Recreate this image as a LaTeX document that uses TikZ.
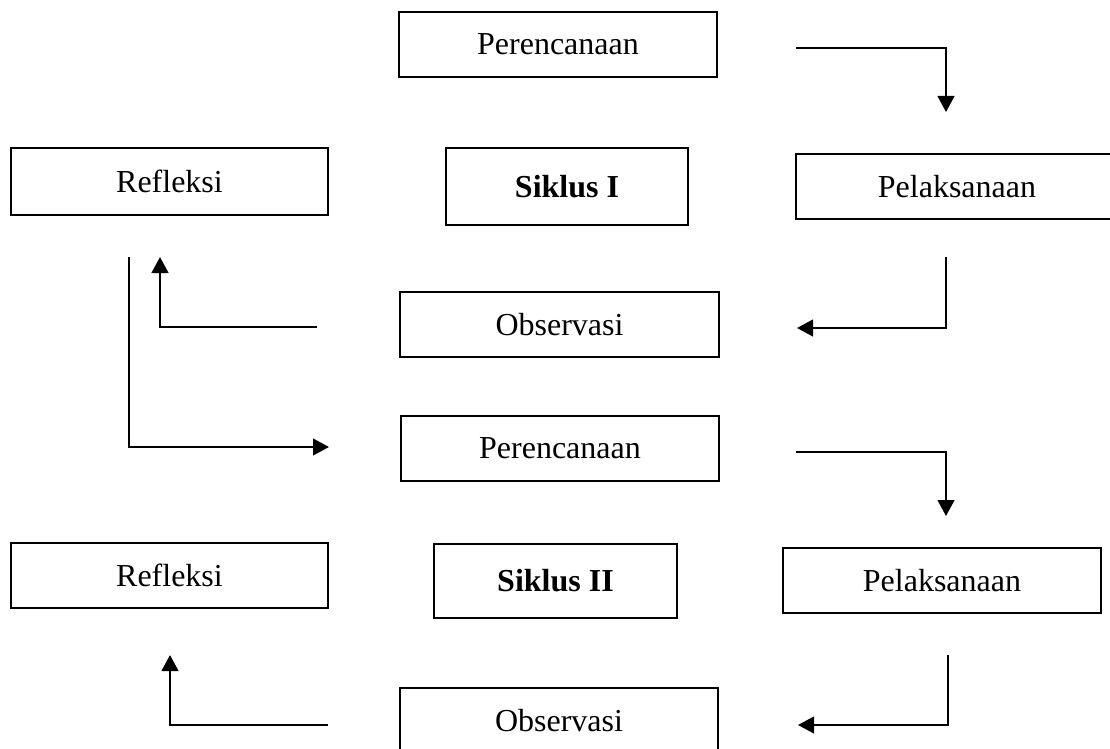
\documentclass[tikz,border=0pt]{standalone}
\usepackage{fontspec}
\setmainfont{Liberation Serif}
\usetikzlibrary{arrows.meta}

\tikzset{
  stepbox/.style={draw, line width=1.9pt, inner sep=0pt, font=\fontsize{24}{29}\selectfont},
  flow/.style={line width=1.7pt, -{Triangle[length=12pt,width=12.5pt]}},
}

\begin{document}
\begin{tikzpicture}[x=0.75pt,y=0.75pt,yscale=-1,xscale=1]
        %set diagram size
        \useasboundingbox (0,0) rectangle (1110,749);
        
        %Shape: Rectangle [id:plan1] 
        \node [stepbox, minimum width=318*0.75pt, minimum height=65*0.75pt] (plan1) at (558,44.5) {Perencanaan};
        %Shape: Rectangle [id:refl1] 
        \node [stepbox, minimum width=317*0.75pt, minimum height=67*0.75pt] (refl1) at (169.5,181.5) {Refleksi};
        %Shape: Rectangle [id:cyc1] 
        \node [stepbox, minimum width=242*0.75pt, minimum height=77*0.75pt] (cyc1) at (567,186.5) {\textbf{Siklus I}};
        %Shape: Rectangle [id:act1] 
        \node [stepbox, minimum width=322*0.75pt, minimum height=65*0.75pt] (act1) at (957,186.5) {Pelaksanaan};
        %Shape: Rectangle [id:obs1] 
        \node [stepbox, minimum width=319*0.75pt, minimum height=65*0.75pt] (obs1) at (559.5,324.5) {Observasi};
        
        %Shape: Rectangle [id:plan2] 
        \node [stepbox, minimum width=318*0.75pt, minimum height=65*0.75pt] (plan2) at (560,448.5) {Perencanaan};
        %Shape: Rectangle [id:refl2] 
        \node [stepbox, minimum width=317*0.75pt, minimum height=65*0.75pt] (refl2) at (169.5,575.5) {Refleksi};
        %Shape: Rectangle [id:cyc2] 
        \node [stepbox, minimum width=243*0.75pt, minimum height=74*0.75pt] (cyc2) at (555.5,581) {\textbf{Siklus II}};
        %Shape: Rectangle [id:act2] 
        \node [stepbox, minimum width=318*0.75pt, minimum height=65*0.75pt] (act2) at (942,580.5) {Pelaksanaan};
        %Shape: Rectangle [id:obs2] 
        \node [stepbox, minimum width=318*0.75pt, minimum height=65*0.75pt] (obs2) at (559,720.5) {Observasi};
        
        %Arrow ends
        \coordinate (a1s) at (796,48);   \coordinate (a1e) at (946,112);
        \coordinate (a2s) at (946,257);  \coordinate (a2e) at (797,328);
        \coordinate (a3s) at (317,327);  \coordinate (a3e) at (160,257);
        \coordinate (a4s) at (129,257);  \coordinate (a4e) at (329,447);
        \coordinate (a5s) at (796,452);  \coordinate (a5e) at (946,516);
        \coordinate (a6s) at (948,655);  \coordinate (a6e) at (798,725);
        \coordinate (a7s) at (328,725);  \coordinate (a7e) at (170,655);
        
        %Straight Lines [id:a1] 
        \draw [flow] (a1s) -| (a1e);
        %Straight Lines [id:a2] 
        \draw [flow] (a2s) |- (a2e);
        %Straight Lines [id:a3] 
        \draw [flow] (a3s) -| (a3e);
        %Straight Lines [id:a4] 
        \draw [flow] (a4s) |- (a4e);
        %Straight Lines [id:a5] 
        \draw [flow] (a5s) -| (a5e);
        %Straight Lines [id:a6] 
        \draw [flow] (a6s) |- (a6e);
        %Straight Lines [id:a7] 
        \draw [flow] (a7s) -| (a7e);
        
\end{tikzpicture}
\end{document}
